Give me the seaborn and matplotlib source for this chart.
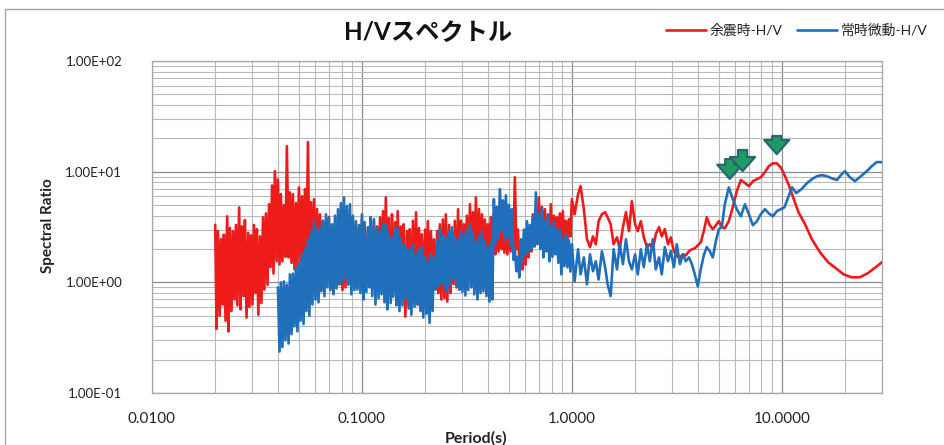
import matplotlib
matplotlib.use("Agg")
import matplotlib.pyplot as plt
from matplotlib.patches import Rectangle
from matplotlib.ticker import FixedLocator, FixedFormatter, LogLocator, NullFormatter
import pandas as pd
import seaborn as sns

# ---------------------------------------------------------------- data
series_names = ["余震時-H/V", "常時微動-H/V"]

# short-period band, sampled finely (shared by both records)
dense_period = [
    0.0200, 0.0203, 0.0206, 0.0210, 0.0213, 0.0217, 0.0220, 0.0224, 0.0228, 0.0231,
    0.0235, 0.0239, 0.0243, 0.0247, 0.0251, 0.0255, 0.0260, 0.0264, 0.0268, 0.0273,
    0.0277, 0.0282, 0.0287, 0.0291, 0.0296, 0.0301, 0.0306, 0.0311, 0.0316, 0.0321,
    0.0327, 0.0332, 0.0338, 0.0343, 0.0349, 0.0355, 0.0361, 0.0367, 0.0373, 0.0379,
    0.0385, 0.0392, 0.0398, 0.0405, 0.0411, 0.0418, 0.0425, 0.0432, 0.0439, 0.0447,
    0.0454, 0.0462, 0.0469, 0.0477, 0.0485, 0.0493, 0.0501, 0.0510, 0.0518, 0.0527,
    0.0535, 0.0544, 0.0553, 0.0562, 0.0572, 0.0581, 0.0591, 0.0601, 0.0611, 0.0621,
    0.0631, 0.0641, 0.0652, 0.0663, 0.0674, 0.0685, 0.0696, 0.0708, 0.0720, 0.0732,
    0.0744, 0.0756, 0.0769, 0.0781, 0.0794, 0.0808, 0.0821, 0.0835, 0.0848, 0.0862,
    0.0877, 0.0891, 0.0906, 0.0921, 0.0936, 0.0952, 0.0968, 0.0984,
    0.100, 0.102, 0.103, 0.105, 0.107, 0.109, 0.110, 0.112, 0.114, 0.116,
    0.118, 0.120, 0.122, 0.124, 0.126, 0.128, 0.130, 0.132, 0.134, 0.137,
    0.139, 0.141, 0.144, 0.146, 0.148, 0.151, 0.153, 0.156, 0.158, 0.161,
    0.164, 0.167, 0.169, 0.172, 0.175, 0.178, 0.181, 0.184, 0.187, 0.190,
    0.193, 0.196, 0.200, 0.203, 0.206, 0.210, 0.213, 0.217, 0.220, 0.224,
    0.228, 0.231, 0.235, 0.239, 0.243, 0.247, 0.251, 0.255, 0.260, 0.264,
    0.268, 0.273, 0.277, 0.282, 0.287, 0.291, 0.296, 0.301, 0.306, 0.311,
    0.316, 0.321, 0.327, 0.332, 0.338, 0.343, 0.349, 0.355, 0.361, 0.367,
    0.373, 0.379, 0.385, 0.392, 0.398, 0.405, 0.411, 0.418, 0.425, 0.432,
    0.439, 0.447, 0.454, 0.462, 0.469, 0.477, 0.485, 0.493, 0.501, 0.510,
    0.518, 0.527, 0.535, 0.544, 0.553, 0.562, 0.572, 0.581, 0.591, 0.601,
    0.611, 0.621, 0.631, 0.641, 0.652, 0.663, 0.674, 0.685, 0.696, 0.708,
    0.720, 0.732, 0.744, 0.756, 0.769, 0.781, 0.794, 0.808, 0.821, 0.835,
    0.848, 0.862, 0.877, 0.891, 0.906, 0.921, 0.936, 0.952, 0.968, 0.984,
]
# the microtremor record begins at 0.0398 s
blue_start = 42

# 1-4 s band (shared)
mid_period = [
    1.00, 1.03, 1.07, 1.10, 1.14, 1.18, 1.22, 1.26, 1.30, 1.34,
    1.39, 1.44, 1.48, 1.53, 1.58, 1.64, 1.69, 1.75, 1.81, 1.87,
    1.93, 2.00, 2.06, 2.13, 2.20, 2.28, 2.35, 2.43, 2.51, 2.60,
    2.68, 2.77, 2.87, 2.96, 3.06, 3.16, 3.27, 3.38, 3.49, 3.61,
    3.73, 3.85, 3.98,
]

# long-period tails
red_tail_period = [
    4.11, 4.25, 4.39, 4.54, 4.69, 4.85, 5.01, 5.18, 5.35, 5.59,
    5.84, 6.10, 6.38, 6.67, 6.97, 7.28, 7.61, 7.94, 8.30, 8.67,
    9.06, 9.47, 9.89, 10.3, 10.8, 11.4, 12.0, 12.9, 13.9, 15.2,
    16.6, 18.1, 19.7, 21.5, 23.5, 25.7, 28.0, 30.0,
]
blue_tail_period = [
    4.11, 4.25, 4.39, 4.54, 4.69, 4.85, 5.01, 5.18, 5.35, 5.59,
    5.84, 6.10, 6.38, 6.67, 6.97, 7.28, 7.61, 7.94, 8.30, 8.67,
    9.06, 9.47, 9.89, 10.3, 10.8, 11.2, 11.7, 12.4, 13.2, 13.9,
    14.7, 15.5, 16.4, 17.3, 18.3, 19.1, 20.0, 21.1, 22.3, 23.8,
    25.4, 26.8, 28.3, 30.0,
]

# aftershock H/V (余震時)
red_dense_ratio = [
    3.30, 0.38, 2.90, 0.50, 2.45, 0.63, 2.70, 0.45, 3.95, 0.36,
    3.10, 0.55, 2.90, 0.70, 3.30, 0.62, 4.75, 0.57, 3.20, 0.75,
    3.65, 0.48, 2.80, 0.60, 2.66, 0.63, 3.30, 0.80, 3.02, 0.51,
    2.60, 0.65, 3.87, 0.86, 4.20, 0.95, 5.08, 1.37, 7.50, 1.20,
    10.1, 1.55, 8.50, 1.45, 6.26, 1.55, 5.00, 1.70, 17.0, 1.68,
    6.50, 1.50, 6.26, 1.31, 5.20, 1.40, 7.20, 1.55, 6.00, 1.30,
    6.95, 1.25, 18.5, 1.18, 5.30, 1.05, 5.64, 1.00, 4.60, 0.92,
    4.12, 0.86, 3.60, 0.95, 3.57, 1.06, 3.90, 0.88, 3.15, 0.81,
    3.40, 0.92, 3.35, 0.96, 3.10, 0.85, 2.90, 0.90, 3.30, 1.00,
    3.57, 1.06, 3.10, 0.90, 2.72, 0.94, 3.20, 0.86,
    3.72, 0.86, 3.30, 0.95, 3.15, 1.00, 3.00, 0.92, 3.57, 0.88,
    3.20, 1.06, 3.87, 1.15, 4.40, 1.18, 5.86, 1.00, 3.80, 0.86,
    4.12, 0.80, 3.50, 0.70, 4.40, 0.62, 3.20, 0.70, 3.35, 0.49,
    2.90, 0.60, 3.02, 0.70, 3.60, 0.66, 4.30, 0.63, 3.10, 0.75,
    2.72, 0.78, 3.00, 0.70, 3.57, 0.66, 2.90, 0.75, 2.45, 0.86,
    2.90, 0.80, 3.35, 0.70, 3.70, 0.72, 4.12, 0.67, 3.30, 0.80,
    2.90, 0.96, 3.60, 0.90, 4.58, 0.86, 3.60, 0.95, 3.35, 1.06,
    4.00, 1.12, 5.08, 1.18, 4.30, 1.05, 5.86, 0.96, 4.60, 1.10,
    4.12, 1.31, 3.70, 1.45, 3.35, 1.61, 3.90, 1.70, 4.30, 1.79,
    3.40, 1.90, 3.02, 1.99, 3.30, 1.85, 3.57, 1.79, 3.10, 1.90,
    3.35, 2.00, 8.90, 1.99, 3.00, 1.55, 2.20, 1.31, 1.90, 1.45,
    2.45, 1.68, 3.20, 1.90, 4.12, 2.20, 4.60, 2.45, 5.86, 2.21,
    4.80, 2.30, 4.58, 2.55, 3.90, 2.30, 5.08, 1.99, 4.00, 2.20,
    3.87, 2.45, 4.20, 2.30, 4.40, 2.08, 3.60, 2.40, 3.72, 2.60,
]
red_mid_ratio = [
    5.64, 4.12, 6.26, 7.40, 4.58, 2.45, 2.08, 2.60, 2.21, 3.57,
    4.12, 4.30, 3.87, 3.35, 2.21, 2.55, 1.99, 3.15, 4.30, 2.90,
    5.40, 3.35, 2.90, 3.57, 2.55, 2.08, 2.21, 1.99, 2.72, 3.15,
    2.60, 3.02, 2.21, 2.55, 1.91, 1.72, 1.68, 1.79, 1.75, 1.91,
    1.99, 2.03, 2.16,
]
red_tail_ratio = [
    2.30, 2.90, 3.87, 3.28, 3.02, 3.28, 3.57, 3.15, 3.08, 3.57,
    4.77, 6.65, 8.40, 7.90, 7.40, 8.20, 8.55, 8.90, 9.90, 11.2,
    11.9, 11.9, 10.9, 9.30, 7.55, 5.64, 4.30, 3.35, 2.45, 1.87,
    1.52, 1.34, 1.18, 1.11, 1.11, 1.21, 1.37, 1.52,
]

# microtremor H/V (常時微動)
blue_dense_ratio = [
    0.90, 0.237, 1.00, 0.26, 1.02, 0.30, 0.95, 0.28, 1.18, 0.34,
    1.20, 0.40, 1.37, 0.36, 1.50, 0.45, 1.79, 0.42, 2.00, 0.55,
    2.45, 0.50, 2.90, 0.63, 3.57, 0.70, 3.00, 0.66, 3.15, 0.83,
    3.60, 0.75, 4.12, 0.90, 3.80, 0.85, 3.35, 0.78, 4.00, 0.88,
    4.58, 0.96, 5.20, 1.00, 5.86, 1.06, 4.90, 0.95, 5.08, 0.78,
    4.00, 0.85, 3.57, 0.86, 3.30, 0.80,
    4.12, 0.70, 3.50, 0.82, 3.15, 0.90, 3.90, 0.75, 3.72, 0.63,
    3.10, 0.72, 2.90, 0.78, 3.40, 0.66, 3.35, 0.57, 2.80, 0.65,
    2.55, 0.74, 3.10, 0.62, 3.02, 0.55, 2.50, 0.62, 2.21, 0.70,
    2.00, 0.58, 1.99, 0.51, 2.20, 0.60, 1.79, 0.63, 2.00, 0.55,
    2.08, 0.48, 1.70, 0.52, 1.55, 0.43, 1.80, 0.55, 1.68, 0.86,
    2.40, 0.92, 3.02, 0.96, 2.70, 0.88, 2.55, 0.83, 2.90, 0.95,
    3.15, 1.06, 2.60, 0.92, 2.45, 0.86, 2.90, 0.82, 2.72, 0.76,
    3.00, 0.85, 3.35, 0.90, 2.80, 0.78, 2.33, 0.70, 2.60, 0.80,
    2.90, 0.83, 2.40, 0.75, 2.08, 0.67, 2.30, 0.70, 5.64, 2.21,
    4.80, 2.50, 6.95, 2.90, 5.50, 2.40, 6.10, 2.55, 5.00, 2.10,
    4.58, 1.60, 2.00, 1.26, 1.70, 1.11, 2.45, 1.50, 3.00, 1.79,
    3.57, 1.90, 3.30, 1.99, 3.87, 2.10, 6.50, 2.21, 4.20, 2.00,
    4.58, 1.68, 3.60, 1.90, 4.12, 1.55, 3.20, 1.70, 3.57, 1.79,
    3.00, 1.50, 3.02, 1.18, 2.50, 1.40, 2.72, 1.37, 2.40, 1.25,
]
blue_mid_ratio = [
    2.21, 1.02, 1.99, 1.18, 1.68, 0.96, 1.79, 1.26, 1.55, 1.06,
    1.91, 1.37, 0.96, 0.75, 1.99, 1.31, 2.21, 1.46, 2.45, 1.55,
    1.31, 1.79, 1.18, 1.99, 1.37, 2.21, 1.55, 2.45, 1.31, 1.68,
    1.18, 2.08, 1.55, 1.91, 1.37, 2.21, 1.46, 1.79, 1.55, 1.68,
    1.46, 1.18, 0.92,
]
blue_tail_ratio = [
    1.31, 1.76, 2.08, 1.91, 1.68, 2.35, 3.02, 3.15, 5.08, 7.20,
    5.64, 4.58, 3.95, 5.08, 4.12, 3.28, 3.57, 4.12, 4.58, 4.20,
    3.95, 4.40, 4.58, 4.77, 6.10, 7.20, 6.40, 6.95, 7.90, 8.55,
    9.10, 9.30, 9.10, 8.70, 8.40, 9.30, 10.1, 8.90, 8.20, 9.10,
    10.1, 11.2, 12.2, 12.2,
]

# predominant-period markers (period, arrow tip, arrow tail)
arrow_period = [5.65, 6.50, 9.46]
arrow_tip = [8.6, 10.1, 14.4]
arrow_tail = [13.0, 15.7, 21.0]

x_tick_values = [0.01, 0.1, 1.0, 10.0]
x_tick_labels = ["0.0100", "0.1000", "1.0000", "10.0000"]
y_tick_values = [0.1, 1.0, 10.0, 100.0]
y_tick_labels = ["1.00E-01", "1.00E+00", "1.00E+01", "1.00E+02"]

RED = "#ee1b1b"
BLUE = "#1f6fba"
W, H = 945, 445

red_period = dense_period + mid_period + red_tail_period
red_ratio = red_dense_ratio + red_mid_ratio + red_tail_ratio
blue_period = dense_period[blue_start:] + mid_period + blue_tail_period
blue_ratio = blue_dense_ratio + blue_mid_ratio + blue_tail_ratio

# ---------------------------------------------------------------- style
sns.set_theme(style="white")
plt.rcParams["font.family"] = ["Lato", "Noto Sans CJK JP", "DejaVu Sans"]

fig = plt.figure(figsize=(W / 100, H / 100), dpi=100)
fig.patch.set_facecolor("white")
ax = fig.add_axes([152 / W, 1 - 393 / H, 730 / W, 332 / H])
ax.set_xscale("log")
ax.set_yscale("log")

aftershock = pd.DataFrame({"period": red_period, "ratio": red_ratio})
microtremor = pd.DataFrame({"period": blue_period, "ratio": blue_ratio})

sns.lineplot(data=aftershock, x="period", y="ratio", ax=ax, color=RED,
             linewidth=1.9, estimator=None, sort=False, label=series_names[0],
             zorder=3)
sns.lineplot(data=microtremor, x="period", y="ratio", ax=ax, color=BLUE,
             linewidth=1.9, estimator=None, sort=False, label=series_names[1],
             zorder=4)

ax.set_xlim(0.01, 30)
ax.set_ylim(0.1, 100)

# log grid: decades plus 2..9 subdivisions
ax.xaxis.set_major_locator(FixedLocator(x_tick_values))
ax.xaxis.set_major_formatter(FixedFormatter(x_tick_labels))
ax.yaxis.set_major_locator(FixedLocator(y_tick_values))
ax.yaxis.set_major_formatter(FixedFormatter(y_tick_labels))
for axis in (ax.xaxis, ax.yaxis):
    axis.set_minor_locator(LogLocator(base=10, subs=range(2, 10), numticks=20))
    axis.set_minor_formatter(NullFormatter())
ax.grid(which="major", color="#8c8c8c", linewidth=0.9, zorder=0)
ax.grid(which="minor", color="#b9b9b9", linewidth=0.8, zorder=0)
ax.set_axisbelow(True)
for s in ax.spines.values():
    s.set_color("#a6a6a6")
    s.set_linewidth(0.9)

ax.tick_params(axis="x", which="major", pad=14, length=0, labelsize=11,
               labelcolor="#222222")
ax.tick_params(axis="y", which="major", pad=21.5, length=0, labelsize=9.5,
               labelcolor="#222222")
ax.tick_params(which="minor", length=0)
ax.set_xlabel("")
ax.set_ylabel("")

# axis titles
fig.text(48 / W, 1 - 226 / H, "Spectral Ratio", rotation=90, ha="center",
         va="center", fontsize=11, fontweight="bold", color="#222222")
fig.text(476 / W, 1 - 431 / H, "Period(s)", ha="center", va="top",
         fontsize=11.5, fontweight="bold", color="#222222")

# chart title
fig.text(428 / W, 1 - 32 / H, "H/Vスペクトル", ha="center", va="center",
         fontsize=17.5, fontweight="bold", color="#111111")

# legend in the header strip
handles, labels = ax.get_legend_handles_labels()
ax.get_legend().remove()
fig.legend(handles, labels, loc="center left",
           bbox_to_anchor=(655 / W, 1 - 30 / H), ncol=2, frameon=False,
           fontsize=10, handlelength=2.9, handletextpad=0.25,
           columnspacing=1.0, borderpad=0.3, labelcolor="#222222")

# arrows marking the predominant periods
for xp, tip, tail in zip(arrow_period, arrow_tip, arrow_tail):
    ax.annotate("", xy=(xp, tip), xytext=(xp, tail),
                arrowprops=dict(arrowstyle="simple,head_width=1.5,head_length=0.85,tail_width=0.55",
                                mutation_scale=12, fc="#1f9a63", ec="#2b6670",
                                lw=1.6, shrinkA=0, shrinkB=0),
                zorder=6)

# chart-area border
fig.patches.append(Rectangle((5 / W, -0.1), 1.2, 1 - 9 / H + 0.1,
                             transform=fig.transFigure, fill=False,
                             edgecolor="#a6a6a6", linewidth=1.0))

fig.savefig("out.png", dpi=100, facecolor="white")
